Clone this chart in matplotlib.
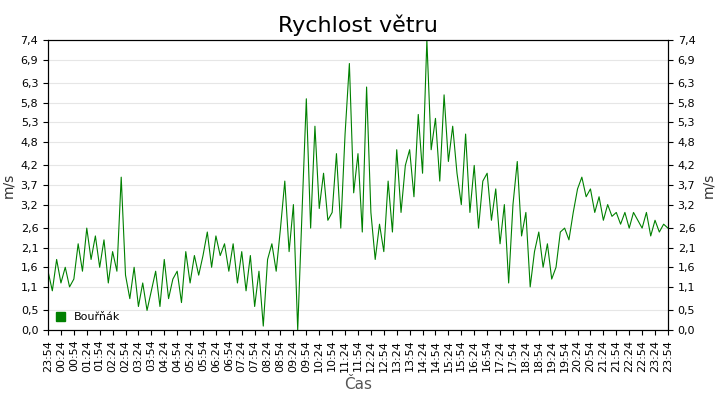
import matplotlib
matplotlib.use("Agg")
import matplotlib.pyplot as plt
import numpy as np

speed = [
1.5,1.0,1.8,1.2,1.6,1.1,
1.3,2.2,1.5,2.6,1.8,2.4,
1.6,2.3,1.2,2.0,1.5,3.9,
1.4,0.8,1.6,0.6,1.2,0.5,
1.0,1.5,0.6,1.8,0.8,1.3,
1.5,0.7,2.0,1.2,1.9,1.4,
1.9,2.5,1.6,2.4,1.9,2.2,
1.5,2.2,1.2,2.0,1.0,1.9,
0.6,1.5,0.1,1.8,2.2,1.5,
2.6,3.8,2.0,3.2,0.0,3.0,
5.9,2.6,5.2,3.1,4.0,2.8,
3.0,4.5,2.6,5.0,6.8,3.5,
4.5,2.5,6.2,3.0,1.8,2.7,
2.0,3.8,2.5,4.6,3.0,4.2,
4.6,3.4,5.5,4.0,7.4,4.6,
5.4,3.8,6.0,4.3,5.2,4.0,
3.2,5.0,3.0,4.2,2.6,3.8,
4.0,2.8,3.6,2.2,3.2,1.2,
3.2,4.3,2.4,3.0,1.1,2.0,
2.5,1.6,2.2,1.3,1.6,2.5,
2.6,2.3,3.0,3.6,3.9,3.4,
3.6,3.0,3.4,2.8,3.2,2.9,
3.0,2.7,3.0,2.6,3.0,2.8,
2.6,3.0,2.4,2.8,2.5,2.7,2.6]
y_ticks = [0.0,0.5,1.1,1.6,2.1,2.6,3.2,3.7,4.2,4.8,5.3,5.8,6.3,6.9,7.4]
x_labels = [f"{(23 + (54 + 30*i)//60) % 24:02d}:{(54 + 30*i) % 60:02d}" for i in range(49)]

hours = np.linspace(0, 24, len(speed))
fig = plt.figure(figsize=(7.2, 4.0), dpi=100)
ax = fig.add_axes([0.0667, 0.175, 0.861, 0.725])
ax.plot(hours, speed, color="#008000", lw=0.8, label="Bouřňák")
ax.set_xlim(0, 24)
ax.set_ylim(0, 7.4)
ax.set_yticks(y_ticks)
ax.set_yticklabels([f"{v:.1f}".replace(".", ",") for v in y_ticks], fontsize=8)
ax.set_xticks(np.arange(49) * 0.5)
ax.set_xticklabels(x_labels, rotation=90, fontsize=8)
ax.grid(axis="y", color="#e6e6e6", lw=0.8)
ax.set_axisbelow(True)
ax.set_ylabel("m/s", fontsize=10, color="#333333")
ax.set_xlabel("Čas", fontsize=11, color="#555555")
ax.set_title("Rychlost větru", fontsize=16)
ax2 = ax.twinx()
ax2.set_ylim(0, 7.4)
ax2.set_yticks(y_ticks)
ax2.set_yticklabels([f"{v:.1f}".replace(".", ",") for v in y_ticks], fontsize=8)
ax2.set_ylabel("m/s", fontsize=10, color="#333333")
from matplotlib.patches import Patch
ax.legend(handles=[Patch(color="#008000", label="Bouřňák")], loc="lower left",
          frameon=False, fontsize=8, handlelength=0.8, handleheight=0.8, borderaxespad=0.3)
fig.savefig("out.png", dpi=100)
